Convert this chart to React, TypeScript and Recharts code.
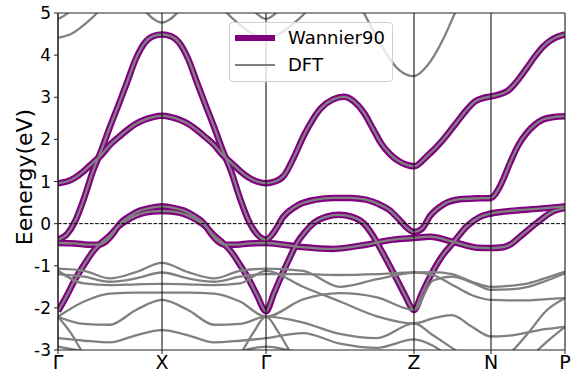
import { LineChart, Line, XAxis, YAxis, ReferenceLine } from 'recharts';

// k-path positions (distance along path) and their labels
const kTicks = [0, 104, 208, 356, 433, 507];
const kLabels = ['Γ', 'X', 'Γ', 'Z', 'N', 'P'];
const eTicks = [-3, -2, -1, 0, 1, 2, 3, 4, 5];

// Wannier90 bands, [k, E(eV)]
const w1 = [
  [0, -2.08], [9, -1.7], [17, -1.33], [26, -0.98], [35, -0.66], [43, -0.46], [52, -0.28], [61, -0.05], [69, 0.08], [78, 0.19], [87, 0.26], [95, 0.29], [104, 0.3],
  [113, 0.29], [121, 0.26], [130, 0.19], [139, 0.08], [147, -0.05], [156, -0.28], [165, -0.46], [173, -0.66], [182, -0.98], [191, -1.33], [199, -1.7], [208, -2.08],
  [216, -1.65], [223, -1.26], [231, -0.85], [239, -0.46], [247, -0.2], [256, 0.02], [268, 0.16], [281, 0.21], [294, 0.16], [306, 0.0], [314, -0.25], [323, -0.62], [331, -0.97], [339, -1.33], [347, -1.7], [356, -2.05],
  [364, -1.65], [372, -1.26], [385, -0.74], [395, -0.46], [409, -0.06], [422, 0.16], [433, 0.24],
  [452, 0.3], [479, 0.35], [507, 0.41],
];
const w2 = [
  [0, -0.46], [17, -0.47], [30, -0.5], [40, -0.5], [48, -0.42], [55, -0.24], [62, 0.0], [72, 0.18], [82, 0.31], [92, 0.37], [104, 0.41],
  [116, 0.37], [126, 0.31], [136, 0.18], [146, 0.0], [153, -0.24], [160, -0.42], [168, -0.5], [178, -0.5], [191, -0.47], [208, -0.46],
  [241, -0.55], [275, -0.6], [308, -0.5], [335, -0.38], [356, -0.34],
  [372, -0.31], [395, -0.43], [419, -0.57], [433, -0.58],
  [445, -0.56], [452, -0.5], [465, -0.25], [479, 0.02], [495, 0.29], [507, 0.37],
];
const w3 = [
  [0, -0.38], [9, -0.25], [17, 0.05], [26, 0.6], [35, 1.25], [43, 1.72], [52, 2.3], [61, 2.85], [69, 3.35], [78, 3.92], [87, 4.3], [95, 4.45], [104, 4.49],
  [113, 4.45], [121, 4.3], [130, 3.92], [139, 3.35], [147, 2.85], [156, 2.3], [165, 1.72], [173, 1.25], [182, 0.6], [191, 0.05], [199, -0.25], [208, -0.38],
  [216, -0.2], [225, 0.15], [241, 0.45], [258, 0.57], [275, 0.61], [292, 0.61], [308, 0.57], [320, 0.47], [331, 0.33], [341, 0.1], [348, -0.08], [356, -0.2],
  [364, -0.12], [372, 0.18], [385, 0.45], [402, 0.58], [420, 0.6], [433, 0.61],
  [440, 0.8], [445, 1.04], [452, 1.44], [460, 1.85], [469, 2.16], [477, 2.35], [485, 2.47], [496, 2.53], [507, 2.55],
];
const w4 = [
  [0, 0.96], [9, 1.0], [17, 1.09], [26, 1.25], [35, 1.45], [43, 1.62], [52, 1.87], [61, 2.06], [69, 2.22], [78, 2.37], [87, 2.47], [95, 2.53], [104, 2.56],
  [113, 2.53], [121, 2.47], [130, 2.37], [139, 2.22], [147, 2.06], [156, 1.87], [165, 1.62], [173, 1.45], [182, 1.25], [191, 1.09], [199, 1.0], [208, 0.96],
  [217, 1.0], [226, 1.14], [236, 1.58], [246, 2.1], [255, 2.48], [263, 2.74], [275, 2.95], [286, 3.01], [296, 2.9], [306, 2.63], [315, 2.25], [323, 1.91], [332, 1.65], [341, 1.48], [348, 1.4], [356, 1.36],
  [369, 1.6], [385, 1.99], [397, 2.35], [409, 2.71], [417, 2.9], [425, 2.98], [433, 3.02],
  [449, 3.14], [459, 3.38], [469, 3.7], [477, 3.97], [485, 4.2], [492, 4.34], [499, 4.43], [507, 4.49],
];

// DFT bands (not wannierised)
const u1 = [[0, 4.41], [13, 4.5], [26, 4.72], [39, 5.0], [52, 5.4], [156, 5.4], [169, 5.0], [182, 4.72], [195, 4.5], [208, 4.41], [221, 4.5], [234, 4.72], [247, 5.0], [260, 5.4]];
const u2 = [[0, 4.86], [10, 5.0], [20, 5.3], [188, 5.3], [198, 5.0], [208, 4.86], [218, 5.0], [228, 5.3]];
const u3 = [[78, 5.3], [89, 5.0], [96, 4.85], [104, 4.77], [112, 4.85], [119, 5.0], [130, 5.3]];
const u4 = [[298, 5.4], [306, 5.0], [316, 4.55], [328, 4.05], [341, 3.65], [356, 3.5], [369, 3.74], [385, 4.37], [397, 5.0], [405, 5.4]];

const d1 = [[0, -1.07], [26, -1.12], [52, -1.3], [78, -1.15], [104, -0.93], [130, -1.15], [156, -1.3], [182, -1.12], [208, -1.07], [245, -1.12], [282, -1.5], [319, -1.32], [356, -1.16], [375, -1.15], [394, -1.2], [414, -1.38], [433, -1.5], [451, -1.48], [470, -1.42], [489, -1.28], [507, -1.14]];
const d2 = [[0, -1.2], [26, -1.26], [52, -1.38], [78, -1.3], [104, -1.16], [130, -1.3], [156, -1.38], [182, -1.26], [208, -1.2], [245, -1.2], [282, -1.22], [319, -1.2], [356, -1.16], [375, -1.22], [394, -1.45], [414, -1.7], [433, -1.81], [451, -1.82], [470, -1.82], [489, -1.79], [507, -1.77]];
const d3 = [[0, -1.12], [26, -1.42], [52, -1.46], [78, -1.44], [104, -1.43], [130, -1.44], [156, -1.46], [182, -1.42], [208, -1.12], [245, -1.5], [282, -1.85], [319, -2.2], [356, -2.37], [375, -2.25], [394, -2.17], [414, -2.45], [433, -2.68], [451, -2.66], [470, -2.58], [489, -2.5], [507, -2.45]];
const d4 = [[0, -2.21], [26, -1.85], [52, -1.66], [78, -1.64], [104, -1.64], [130, -1.64], [156, -1.66], [182, -1.85], [208, -2.21], [245, -1.8], [282, -1.65], [319, -1.75], [356, -2.05], [375, -1.35], [394, -1.26], [414, -1.4], [433, -1.57], [451, -1.56], [470, -1.5], [489, -1.35], [507, -1.18]];
const d5 = [[0, -2.21], [26, -2.38], [52, -2.4], [78, -2.05], [104, -1.81], [130, -2.05], [156, -2.4], [182, -2.38], [208, -2.21], [245, -2.35], [282, -2.62], [319, -2.72], [356, -2.37], [375, -2.65], [394, -2.95], [414, -3.25], [433, -3.4], [451, -3.1], [470, -2.6], [489, -2.05], [507, -1.77]];
const d6 = [[0, -2.21], [13, -2.6], [26, -3.1], [40, -3.4], [168, -3.4], [182, -3.1], [195, -2.6], [208, -2.21], [221, -2.6], [234, -3.1], [248, -3.4], [433, -3.5], [470, -3.2], [489, -2.8], [507, -2.45]];
const d7 = [[0, -2.72], [26, -2.78], [52, -2.82], [78, -2.65], [104, -2.53], [130, -2.65], [156, -2.82], [182, -2.78], [208, -2.72], [245, -2.6], [282, -2.85], [319, -2.95], [356, -2.75], [375, -2.9], [394, -3.2], [414, -3.4]];
const d8 = [[0, -2.92], [30, -3.05], [60, -3.15], [104, -3.2], [148, -3.15], [178, -3.05], [208, -2.92], [240, -3.05], [280, -3.2]];

const wannierBands = [w1, w2, w3, w4];
const dftBands = [w1, w2, w3, w4, u1, u2, u3, u4, d1, d2, d3, d4, d5, d6, d7, d8];

const legendItems = [
  { name: 'Wannier90', color: '#800080', width: 6 },
  { name: 'DFT', color: '#808080', width: 2 },
];

const toPts = (band: number[][]) => band.map(([k, e]) => ({ k, e }));

const FONT = 'DejaVu Sans, sans-serif';

const AxisTitle = () => (
  <text x={32} y={177} transform="rotate(-90 32 177)" textAnchor="middle" fontSize={22} fontFamily={FONT} fill="#000">
    Eenergy(eV)
  </text>
);

export default function App() {
  return (
    <div style={{ position: 'absolute', left: 0, top: 0, width: 572, height: 372, background: '#fff', fontFamily: FONT }}>
      <LineChart width={572} height={372} margin={{ top: 13, right: 7, bottom: 0, left: 0 }}>
        <XAxis
          dataKey="k"
          type="number"
          domain={[0, 507]}
          ticks={kTicks}
          tickFormatter={(_v, i) => kLabels[i]}
          interval={0}
          height={22}
          tickSize={4}
          tickMargin={2}
          stroke="#222"
          tick={{ fontSize: 19, fill: '#000', fontFamily: FONT }}
          allowDataOverflow
        />
        <YAxis
          type="number"
          domain={[-3, 5]}
          ticks={eTicks}
          width={58}
          tickSize={4}
          tickMargin={3}
          stroke="#222"
          tick={{ fontSize: 17, fill: '#000', fontFamily: FONT }}
          allowDataOverflow
          label={<AxisTitle />}
        />
        {wannierBands.map((b, i) => (
          <Line
            key={`w${i}`}
            data={toPts(b)}
            dataKey="e"
            type="monotone"
            stroke="#800080"
            strokeWidth={6.5}
            dot={false}
            activeDot={false}
            isAnimationActive={false}
          />
        ))}
        {dftBands.map((b, i) => (
          <Line
            key={`d${i}`}
            data={toPts(b)}
            dataKey="e"
            type="monotone"
            stroke="#808080"
            strokeWidth={2.3}
            dot={false}
            activeDot={false}
            isAnimationActive={false}
          />
        ))}
        {kTicks.map((k, i) => (
          <ReferenceLine key={`k${i}`} x={k} stroke="#000" strokeWidth={1} />
        ))}
        <ReferenceLine y={0} stroke="#000" strokeWidth={1} strokeDasharray="3.7 1.6" />
        <ReferenceLine y={5} stroke="#222" strokeWidth={1} />
      </LineChart>
      <div
        style={{
          position: 'absolute',
          left: 229,
          top: 22,
          width: 162,
          height: 58,
          border: '1px solid #d0d0d0',
          borderRadius: 4,
          background: 'rgba(255,255,255,0.8)',
          boxSizing: 'content-box',
        }}
      >
        {legendItems.map((it, i) => (
          <div key={it.name} style={{ position: 'absolute', left: 0, top: i * 27, height: 30, display: 'flex', alignItems: 'center' }}>
            <div style={{ marginLeft: 5, width: 40, height: it.width, background: it.color }} />
            <span style={{ marginLeft: 13, fontSize: 18, color: '#000', lineHeight: '30px' }}>{it.name}</span>
          </div>
        ))}
      </div>
    </div>
  );
}
